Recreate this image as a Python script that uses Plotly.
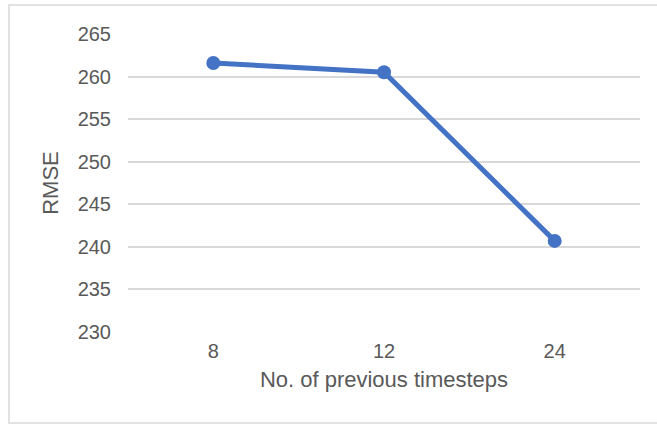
import plotly.graph_objects as go

# RMSE by look-back window length
timesteps = ["8", "12", "24"]
rmse = [261.6, 260.5, 240.7]
y_ticks = [230, 235, 240, 245, 250, 255, 260, 265]

W, H = 657, 427
ML, MR, MT, MB = 128, 17, 34, 95
pw, ph = W - ML - MR, H - MT - MB

def px_x(px):
    return (px - ML) / pw

def px_y(py):
    return (H - MB - py) / ph

text_color = "#595959"
grid_color = "#d9d9d9"
font_family = "Liberation Sans, Arial, sans-serif"

fig = go.Figure(
    go.Scatter(
        x=timesteps,
        y=rmse,
        mode="lines+markers",
        line=dict(color="#4472C4", width=5),
        marker=dict(color="#4472C4", size=14),
        showlegend=False,
    )
)

fig.update_layout(
    width=W,
    height=H,
    margin=dict(l=ML, r=MR, t=MT, b=MB),
    paper_bgcolor="white",
    plot_bgcolor="white",
    font=dict(family=font_family, size=20, color=text_color),
    shapes=[
        dict(
            type="rect", xref="paper", yref="paper",
            x0=px_x(9), x1=px_x(700), y0=px_y(423), y1=px_y(5),
            line=dict(color=grid_color, width=1.5),
            fillcolor="rgba(0,0,0,0)", layer="below",
        )
    ],
)

fig.update_xaxes(
    type="category",
    range=[-0.5, 2.5],
    showgrid=False,
    showline=False,
    zeroline=False,
    ticks="",
    tickfont=dict(size=20, color=text_color),
    ticklabelstandoff=5,
    title=dict(text="No. of previous timesteps", font=dict(size=22, color=text_color), standoff=10),
)

fig.update_yaxes(
    range=[230, 265],
    tickvals=y_ticks,
    showgrid=True,
    gridcolor=grid_color,
    gridwidth=2,
    showline=False,
    zeroline=False,
    ticks="",
    tickfont=dict(size=20, color=text_color),
    ticklabelstandoff=16,
    title=dict(text="RMSE", font=dict(size=22, color=text_color), standoff=12),
)

fig.write_html("out.html")
